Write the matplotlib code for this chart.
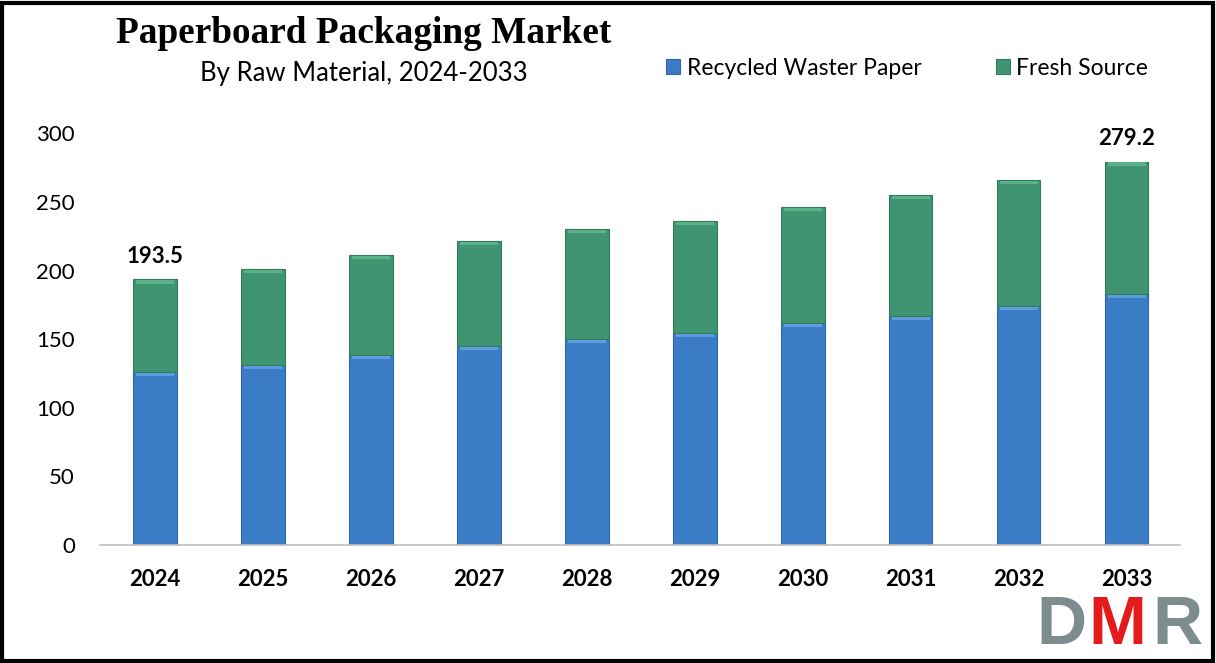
import numpy as np
import matplotlib.pyplot as plt
from matplotlib.patches import Rectangle

years = ['2024', '2025', '2026', '2027', '2028', '2029', '2030', '2031', '2032', '2033']
recycled = [126.0, 131.1, 138.4, 144.9, 150.0, 154.4, 161.7, 166.8, 174.0, 182.8]
fresh = [67.5, 69.9, 72.8, 76.5, 80.1, 81.5, 84.4, 88.1, 91.8, 96.4]
totals = [193.5, 201.0, 211.2, 221.4, 230.1, 235.9, 246.1, 254.9, 265.8, 279.2]
yticks = [0, 50, 100, 150, 200, 250, 300]

blue = '#3A7DC6'
green = '#3F9471'
blue_hi = '#5F9CDD'
green_hi = '#5BB189'

fig = plt.figure(figsize=(12.16, 6.63), dpi=100)
ax = fig.add_axes([0.0822, 0.178, 0.888, 0.621])

x = np.arange(len(years))
w = 0.40
ax.bar(x, recycled, w, color=blue, edgecolor='#2F68A8', linewidth=0.8, label='Recycled Waster Paper')
ax.bar(x, fresh, w, bottom=recycled, color=green, edgecolor='#327A5C', linewidth=0.8, label='Fresh Source')
# light bevel strip on top of each segment
ax.bar(x, [2.6] * len(x), w * 0.88, bottom=np.array(recycled) - 3.0, color=blue_hi, linewidth=0)
ax.bar(x, [2.6] * len(x), w * 0.88, bottom=np.array(totals) - 3.0, color=green_hi, linewidth=0)

ax.set_xlim(-0.51, 9.49)
ax.set_ylim(0, 300)
ax.set_yticks(yticks)
ax.set_xticks(x)
ax.set_xticklabels(years, fontsize=16, fontweight='bold', family='Lato')
for lab in ax.get_yticklabels():
    lab.set_fontsize(16)
    lab.set_family('Lato')
ax.tick_params(axis='both', length=0)
ax.tick_params(axis='x', pad=17)
ax.tick_params(axis='y', pad=18)
for s in ['top', 'right', 'left']:
    ax.spines[s].set_visible(False)
ax.spines['bottom'].set_color('#BFBFBF')
ax.spines['bottom'].set_linewidth(1.2)

ax.text(x[0], totals[0] + 9, f'{totals[0]}', ha='center', va='bottom', fontsize=16, fontweight='bold', family='Lato')
ax.text(x[-1], totals[-1] + 9, f'{totals[-1]}', ha='center', va='bottom', fontsize=16, fontweight='bold', family='Lato')

fig.text(0.299, 0.949, 'Paperboard Packaging Market', ha='center', va='center',
         fontsize=26.8, fontweight='bold', family='Liberation Serif')
fig.text(0.299, 0.889, 'By Raw Material, 2024-2033', ha='center', va='center',
         fontsize=18.5, family='Lato')

fig.legend(loc='center', bbox_to_anchor=(0.746, 0.897), ncol=2, frameon=False,
           prop={'family': 'Lato', 'size': 16.5}, handlelength=0.6, handleheight=0.6,
           handletextpad=0.3, columnspacing=3.25)

# logo
fig.text(0.873, 0.008, 'D', color='#7F8C8D', fontsize=50, fontweight='bold', family='Liberation Sans', ha='center', va='bottom')
fig.text(0.919, 0.008, 'M', color='#E31B1B', fontsize=50, fontweight='bold', family='Liberation Sans', ha='center', va='bottom')
fig.text(0.968, 0.008, 'R', color='#7F8C8D', fontsize=50, fontweight='bold', family='Liberation Sans', ha='center', va='bottom')

fig.patches.append(Rectangle((0.0015, 0.003), 0.996, 0.992, transform=fig.transFigure,
                             fill=False, edgecolor='black', linewidth=3))

fig.savefig('out.png', dpi=100)
